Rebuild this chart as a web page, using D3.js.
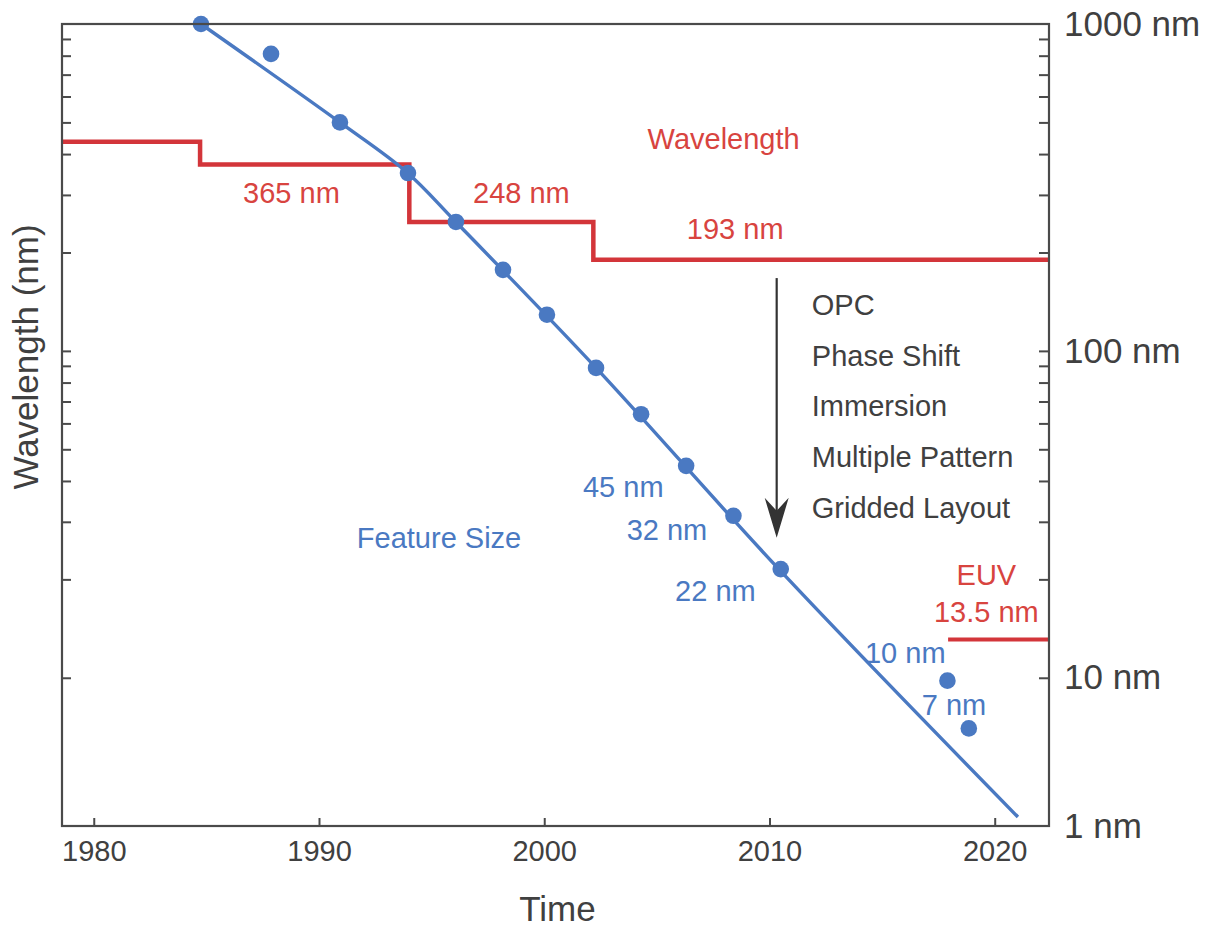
<!DOCTYPE html>
<html>
<head>
<meta charset="utf-8">
<script src="https://cdn.jsdelivr.net/npm/d3@7"></script>
<style>
  html, body { margin: 0; padding: 0; background: #fff; }
  text { font-family: "Liberation Sans", Arial, Helvetica, sans-serif; }
</style>
</head>
<body>
<svg id="chart" width="1206" height="930"></svg>
<script>
// ---------- data ----------
const featureYears  = [1984.76, 1987.87, 1990.93, 1993.95, 1996.08, 1998.17, 2000.12, 2002.3, 2004.3, 2006.3, 2008.4, 2010.5, 2017.9, 2018.85];
const featureValues = [1000, 810, 500, 350, 248, 177, 129, 88.7, 64, 44.5, 31.3, 21.5, 9.8, 7.0];

const trendYears  = [1984.76, 1990.93, 1993.9, 1996.1, 2002.3, 2010.47, 2021.03];
const trendValues = [1000, 500, 352, 247, 88.7, 21.3, 3.75];

const waveYears  = [1978.59, 1984.72, 1994.01, 2002.18, 2022.41];
const waveValues = [436, 372, 248, 190, 190];

const euvYears  = [2017.93, 2022.41];
const euvValues = [13.1, 13.1];

const arrowYear = 2010.32;
const arrowFrom = 167;
const arrowTo   = 26.8;

const xTickValues = [1980, 1990, 2000, 2010, 2020];
const yMinorTicks = [900, 800, 700, 600, 500, 400, 300, 200, 100, 90, 80, 70, 60, 50, 40, 30, 20, 10];
const yLabelValues = [1000, 100, 10, 3.52];
const yLabelTexts  = ["1000 nm", "100 nm", "10 nm", "1 nm"];

const redNotes  = [
  {text: "Wavelength", year: 2004.59, value: 413.6, anchor: "start"},
  {text: "365 nm",     year: 1986.63, value: 283.5, anchor: "start"},
  {text: "248 nm",     year: 1996.84, value: 283.5, anchor: "start"},
  {text: "193 nm",     year: 2006.33, value: 219.5, anchor: "start"},
  {text: "EUV",        year: 2019.63, value: 19.2,  anchor: "middle"},
  {text: "13.5 nm",    year: 2019.63, value: 14.85, anchor: "middle"}
];
const blueNotes = [
  {text: "Feature Size", year: 1991.68, value: 24.9, anchor: "start"},
  {text: "45 nm",        year: 2001.72, value: 35.7, anchor: "start"},
  {text: "32 nm",        year: 2003.66, value: 26.4, anchor: "start"},
  {text: "22 nm",        year: 2005.81, value: 17.2, anchor: "start"},
  {text: "10 nm",        year: 2014.24, value: 11.1, anchor: "start"},
  {text: "7 nm",         year: 2016.76, value: 7.69, anchor: "start"}
];
const techNames  = ["OPC", "Phase Shift", "Immersion", "Multiple Pattern", "Gridded Layout"];
const techYear   = 2011.88;
const techValues = [128.8, 90.1, 63.1, 44.2, 30.9];

// ---------- layout ----------
const RED = "#d3353a", RED_TXT = "#d8443f", BLUE = "#4a79c2", DARK = "#404040";
const L = 62, R = 1049, T = 24, B = 826;

const svg = d3.select("#chart");
const x = d3.scaleLinear().domain([1978.59, 2022.41]).range([L, R]);
const y = d3.scaleLog().domain([3.52, 1000]).range([B, T]);

// red wavelength step line
const stepLine = d3.line().x(d => x(d[0])).y(d => y(d[1])).curve(d3.curveStepAfter);
svg.append("path")
  .datum(d3.zip(waveYears, waveValues))
  .attr("d", stepLine).attr("fill", "none").attr("stroke", RED).attr("stroke-width", 4.5);
svg.append("path")
  .datum(d3.zip(euvYears, euvValues))
  .attr("d", stepLine).attr("fill", "none").attr("stroke", RED).attr("stroke-width", 4);

// blue trend line
const trendLine = d3.line().x(d => x(d[0])).y(d => y(d[1])).curve(d3.curveCatmullRom.alpha(0.5));
svg.append("path")
  .datum(d3.zip(trendYears, trendValues))
  .attr("d", trendLine).attr("fill", "none").attr("stroke", BLUE).attr("stroke-width", 3.4);

// blue points
svg.append("g").selectAll("circle")
  .data(d3.zip(featureYears, featureValues))
  .join("circle")
  .attr("cx", d => x(d[0])).attr("cy", d => y(d[1])).attr("r", 8.3)
  .attr("fill", BLUE);

// arrow
const ax = x(arrowYear), ay0 = y(arrowFrom), ay1 = y(arrowTo);
svg.append("line").attr("x1", ax).attr("x2", ax).attr("y1", ay0).attr("y2", ay1 - 20)
  .attr("stroke", "#333").attr("stroke-width", 2.2);
svg.append("path")
  .attr("d", `M${ax},${ay1} L${ax - 12},${ay1 - 40} L${ax},${ay1 - 27} L${ax + 12},${ay1 - 40} Z`)
  .attr("fill", "#333");

// technique labels
svg.append("g").selectAll("text")
  .data(d3.zip(techNames, techValues))
  .join("text")
  .attr("x", x(techYear)).attr("y", d => y(d[1]))
  .attr("font-size", 29).attr("fill", DARK).text(d => d[0]);

// annotations
svg.append("g").selectAll("text").data(redNotes).join("text")
  .attr("x", d => x(d.year)).attr("y", d => y(d.value)).attr("text-anchor", d => d.anchor)
  .attr("font-size", 29).attr("fill", RED_TXT).text(d => d.text);
svg.append("g").selectAll("text").data(blueNotes).join("text")
  .attr("x", d => x(d.year)).attr("y", d => y(d.value)).attr("text-anchor", d => d.anchor)
  .attr("font-size", 29).attr("fill", BLUE).text(d => d.text);

// frame
svg.append("rect").attr("x", L).attr("y", T).attr("width", R - L).attr("height", B - T)
  .attr("fill", "none").attr("stroke", "#4a4a4a").attr("stroke-width", 2.2);

// left minor/major ticks (inward)
const leftAxis = svg.append("g").attr("transform", `translate(${L},0)`)
  .call(d3.axisLeft(y).tickValues(yMinorTicks).tickSizeInner(-9).tickSizeOuter(0).tickFormat(""));
// right ticks (inward)
const rightAxis = svg.append("g").attr("transform", `translate(${R},0)`)
  .call(d3.axisRight(y).tickValues(yMinorTicks).tickSizeInner(-10).tickSizeOuter(0).tickFormat(""));
// right labels
const rightLabels = svg.append("g").attr("transform", `translate(${R},0)`)
  .call(d3.axisRight(y).tickValues(yLabelValues).tickSize(0).tickPadding(15)
    .tickFormat((d, i) => yLabelTexts[i]));
rightLabels.selectAll("text").attr("font-size", 35).attr("fill", DARK)
  .attr("font-family", '"Liberation Sans", Arial, sans-serif');
// bottom axis
const bottomAxis = svg.append("g").attr("transform", `translate(0,${B})`)
  .call(d3.axisBottom(x).tickValues(xTickValues).tickSizeInner(-8).tickSizeOuter(0).tickPadding(14)
    .tickFormat(d3.format("d")));
bottomAxis.selectAll("text").attr("font-size", 29).attr("fill", DARK)
  .attr("font-family", '"Liberation Sans", Arial, sans-serif');

[leftAxis, rightAxis, rightLabels, bottomAxis].forEach(g => {
  g.select(".domain").remove();
  g.selectAll("line").attr("stroke", "#4a4a4a").attr("stroke-width", 2);
});

// axis titles
svg.append("text").attr("x", (L + R) / 2 + 2).attr("y", 921)
  .attr("text-anchor", "middle").attr("font-size", 35).attr("fill", DARK).text("Time");
svg.append("text").attr("transform", "translate(38,357) rotate(-90)")
  .attr("text-anchor", "middle").attr("font-size", 35).attr("fill", DARK).text("Wavelength (nm)");
</script>
</body>
</html>
